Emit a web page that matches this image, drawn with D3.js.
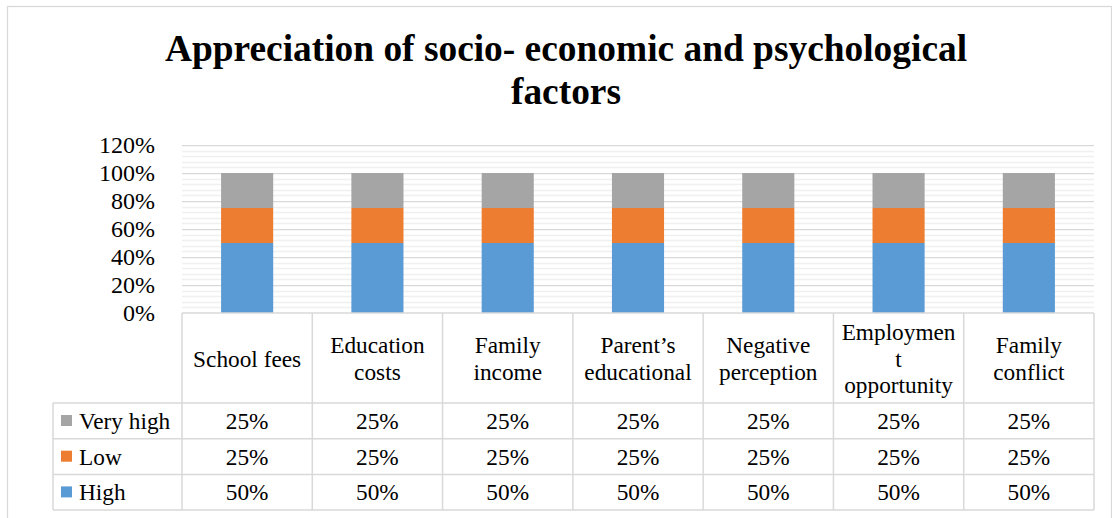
<!DOCTYPE html>
<html>
<head>
<meta charset="utf-8">
<script src="https://cdn.jsdelivr.net/npm/d3@7/dist/d3.min.js"></script>
<style>
  html, body { margin: 0; padding: 0; background: #fff; }
  svg { display: block; }
  svg text, svg tspan { font-family: "Liberation Serif", "Times New Roman", serif !important; fill: #000; }
</style>
</head>
<body>
<svg id="chart" width="1112" height="518" font-family="Liberation Serif, Times New Roman, serif"></svg>
<script>
// Factor names (header rows of the data table; each entry is one text line)
const categories = [
  ["School fees"],
  ["Education", "costs"],
  ["Family", "income"],
  ["Parent\u2019s", "educational"],
  ["Negative", "perception"],
  ["Employmen", "t", "opportunity"],
  ["Family", "conflict"]
];
const categoryKeys = categories.map(c => c.join(" "));

// Series values (shares of respondents)
const high     = [0.50, 0.50, 0.50, 0.50, 0.50, 0.50, 0.50];
const low      = [0.25, 0.25, 0.25, 0.25, 0.25, 0.25, 0.25];
const veryHigh = [0.25, 0.25, 0.25, 0.25, 0.25, 0.25, 0.25];

const seriesNames = ["High", "Low", "Very high"];
const seriesColors = ["#5b9bd5", "#ed7d31", "#a5a5a5"];

// Y axis ticks
const yTicks = [0, 0.2, 0.4, 0.6, 0.8, 1.0, 1.2];

const SERIF = "Liberation Serif, Times New Roman, serif";
const TABLE_FONT = 23.3;
const svg = d3.select("#chart");

const plotLeft = 182, plotRight = 1094, plotTop = 145, plotBottom = 313;
const tableLeft = 53;
const headerBottom = 403;
const rowH = 35.7;

const rows = categoryKeys.map((k, i) => ({
  key: k,
  "High": high[i],
  "Low": low[i],
  "Very high": veryHigh[i]
}));

const y = d3.scaleLinear().domain([0, 1.2]).range([plotBottom, plotTop]);
const col = d3.scaleBand().domain(categoryKeys).range([plotLeft, plotRight]).padding(0);
const x = d3.scaleBand().domain(categoryKeys).range([plotLeft, plotRight])
  .paddingInner(0.6).paddingOuter(0.3);

// Outer chart frame
svg.append("rect")
  .attr("x", 7.5).attr("y", 6.5).attr("width", 1104).attr("height", 530)
  .attr("fill", "none").attr("stroke", "#d9d9d9").attr("stroke-width", 1.25);

// Title
const title = svg.append("text")
  .attr("text-anchor", "middle").attr("font-family", SERIF)
  .attr("font-size", 37.4).attr("font-weight", "bold");
title.append("tspan").attr("x", 566).attr("y", 61)
  .text("Appreciation of socio- economic and psychological");
title.append("tspan").attr("x", 566).attr("y", 104).text("factors");

// Gridlines: minor every 4%, major every 20%
const minor = d3.range(0, 1.2001, 0.04).filter(v => Math.abs(v / 0.2 - Math.round(v / 0.2)) > 1e-6);
svg.append("g").selectAll("line").data(minor).join("line")
  .attr("x1", plotLeft).attr("x2", plotRight)
  .attr("y1", d => Math.round(y(d)) + 0.5).attr("y2", d => Math.round(y(d)) + 0.5)
  .attr("stroke", "#f0f0f0").attr("stroke-width", 1.5);
svg.append("g").selectAll("line").data(yTicks.slice(1)).join("line")
  .attr("x1", plotLeft).attr("x2", plotRight)
  .attr("y1", d => Math.round(y(d)) + 0.5).attr("y2", d => Math.round(y(d)) + 0.5)
  .attr("stroke", "#d9d9d9").attr("stroke-width", 1.25);

// Y axis labels
const yAxis = d3.axisLeft(y).tickValues(yTicks).tickFormat(d3.format(".0%"))
  .tickSize(0).tickPadding(27);
const gy = svg.append("g").attr("transform", `translate(${plotLeft},0)`).call(yAxis)
  .attr("font-family", SERIF).attr("font-size", 24);
gy.select(".domain").remove();
gy.selectAll("text").attr("fill", "#000");

// Stacked bars
const stacked = d3.stack().keys(seriesNames)(rows);
svg.append("g").selectAll("g").data(stacked).join("g")
  .attr("fill", (d, i) => seriesColors[i])
  .selectAll("rect").data(d => d).join("rect")
  .attr("x", d => x(d.data.key))
  .attr("width", x.bandwidth())
  .attr("y", d => y(d[1]))
  .attr("height", d => y(d[0]) - y(d[1]));

// Data table
const tableRows = [
  { name: "Very high", color: seriesColors[2], values: veryHigh },
  { name: "Low", color: seriesColors[1], values: low },
  { name: "High", color: seriesColors[0], values: high }
];
const tableBottom = headerBottom + rowH * tableRows.length;
const grid = svg.append("g").attr("stroke", "#d9d9d9").attr("stroke-width", 1.5).attr("fill", "none");

// horizontal lines
grid.append("line").attr("x1", plotLeft).attr("x2", plotRight).attr("y1", plotBottom).attr("y2", plotBottom);
d3.range(tableRows.length + 1).forEach(i => {
  const yy = headerBottom + i * rowH;
  grid.append("line").attr("x1", tableLeft).attr("x2", plotRight).attr("y1", yy).attr("y2", yy);
});
// vertical lines
grid.append("line").attr("x1", tableLeft).attr("x2", tableLeft).attr("y1", headerBottom).attr("y2", tableBottom);
categoryKeys.forEach(k => {
  grid.append("line").attr("x1", col(k)).attr("x2", col(k)).attr("y1", plotBottom).attr("y2", tableBottom);
});
grid.append("line").attr("x1", plotRight).attr("x2", plotRight).attr("y1", plotBottom).attr("y2", tableBottom);

// header labels
const lineH = 26.7;
const headerMid = 366.7;
categories.forEach((lines, i) => {
  const cx = col(categoryKeys[i]) + col.bandwidth() / 2;
  const t = svg.append("text").attr("text-anchor", "middle")
    .attr("font-family", SERIF).attr("font-size", TABLE_FONT);
  const first = headerMid - (lines.length - 1) * lineH / 2;
  lines.forEach((ln, j) => {
    t.append("tspan").attr("x", cx).attr("y", first + j * lineH).text(ln);
  });
});

// value rows with legend keys
tableRows.forEach((r, i) => {
  const top = headerBottom + i * rowH;
  const base = top + 26;
  svg.append("rect").attr("x", 61).attr("y", top + 12).attr("width", 11).attr("height", 11).attr("fill", r.color);
  svg.append("text").attr("x", 79).attr("y", base)
    .attr("font-family", SERIF).attr("font-size", TABLE_FONT).text(r.name);
  r.values.forEach((v, j) => {
    svg.append("text")
      .attr("x", col(categoryKeys[j]) + col.bandwidth() / 2)
      .attr("y", base).attr("text-anchor", "middle")
      .attr("font-family", SERIF).attr("font-size", TABLE_FONT)
      .text(d3.format(".0%")(v));
  });
});
</script>
</body>
</html>
